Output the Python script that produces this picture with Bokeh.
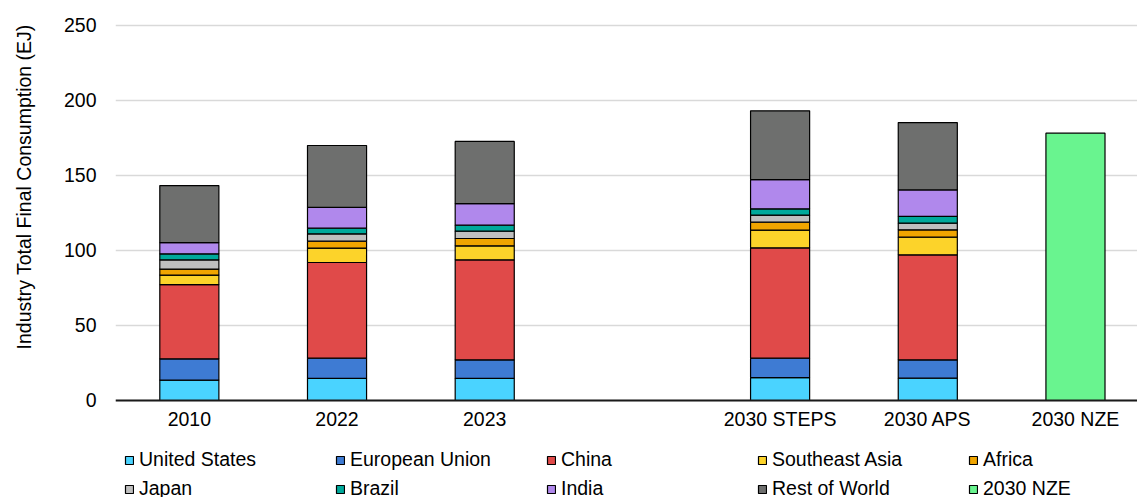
from bokeh.embed import file_html
from bokeh.models import (ColumnDataSource, FixedTicker, Legend, LegendItem,
                          Range1d)
from bokeh.plotting import figure
from bokeh.resources import INLINE

# Slots along the x axis; the empty slot leaves a gap before the 2030 scenarios
slots = ["2010", "2022", "2023", "", "2030 STEPS", "2030 APS", "2030 NZE"]
stacked_cats = ["2010", "2022", "2023", "2030 STEPS", "2030 APS"]

# Industry total final consumption by region (EJ)
united_states = [13.6, 14.7, 14.7, 15.3, 14.9]
european_union = [14.2, 13.5, 12.4, 12.9, 12.2]
china = [49.5, 63.8, 66.7, 73.6, 70.0]
southeast_asia = [6.3, 9.6, 9.3, 11.8, 11.8]
africa = [4.0, 4.6, 4.9, 5.3, 4.9]
japan = [6.2, 4.9, 4.9, 4.7, 4.4]
brazil = [4.0, 3.8, 4.0, 4.2, 4.5]
india = [7.5, 13.8, 14.4, 19.5, 17.7]
rest_of_world = [38.0, 41.3, 41.4, 45.8, 44.9]

# Net Zero Emissions scenario total (EJ)
nze_cat = ["2030 NZE"]
nze_total = [178.2]

series_names = ["United States", "European Union", "China", "Southeast Asia",
                "Africa", "Japan", "Brazil", "India", "Rest of World"]
series_values = [united_states, european_union, china, southeast_asia, africa,
                 japan, brazil, india, rest_of_world]
series_colors = ["#4AD3FF", "#3E7BD3", "#E04A49", "#FCD32A", "#F0A500",
                 "#BFBFBF", "#00A99B", "#B088EC", "#6E6F6E"]
nze_color = "#69F48F"

FONT = "Liberation Sans"
FS = "19.5px"

data = {"x": [slots.index(c) for c in stacked_cats]}
for name, vals in zip(series_names, series_values):
    data[name] = vals
src = ColumnDataSource(data)
nze_src = ColumnDataSource({"x": [slots.index(c) for c in nze_cat], "top": nze_total})

# The frame reaches the bottom of the canvas so the legend sits inside it;
# the category axis is pinned at zero.
p = figure(width=1137, height=497, output_backend="svg", toolbar_location=None,
           x_range=Range1d(-0.5, 6.42), y_range=Range1d(-64.67, 252),
           min_border_left=115, min_border_right=0, min_border_top=22,
           min_border_bottom=0)
p.outline_line_color = None
p.background_fill_color = "white"
p.border_fill_color = "white"

stack = p.vbar_stack(series_names, x="x", width=0.4, source=src,
                     color=series_colors, line_color="black", line_width=1.2)
nze = p.vbar(x="x", top="top", width=0.4, source=nze_src,
             fill_color=nze_color, line_color="black", line_width=1.2)

# Category axis
p.xaxis.fixed_location = 0
p.xaxis.ticker = FixedTicker(ticks=[i for i, s in enumerate(slots) if s])
p.xaxis.major_label_overrides = {i: s for i, s in enumerate(slots) if s}
p.xaxis.major_tick_line_color = None
p.xaxis.minor_tick_line_color = None
p.xaxis.axis_line_color = "#1a1a1a"
p.xaxis.axis_line_width = 2
p.xaxis.major_label_text_font = FONT
p.xaxis.major_label_text_font_size = FS
p.xaxis.major_label_text_color = "black"
p.xaxis.major_label_standoff = 2

# Value axis; non-breaking spaces lift the title over the 0-250 part of the frame
p.yaxis.ticker = FixedTicker(ticks=[0, 50, 100, 150, 200, 250])
p.yaxis.axis_line_color = None
p.yaxis.major_tick_line_color = None
p.yaxis.minor_tick_line_color = None
p.yaxis.major_label_text_font = FONT
p.yaxis.major_label_text_font_size = FS
p.yaxis.major_label_text_color = "black"
p.yaxis.major_label_standoff = 13
p.yaxis.axis_label = "\u00a0" * 27 + "Industry Total Final Consumption (EJ)"
p.yaxis.axis_label_text_font = FONT
p.yaxis.axis_label_text_font_size = FS
p.yaxis.axis_label_text_font_style = "normal"
p.yaxis.axis_label_text_color = "black"
p.yaxis.axis_label_standoff = 26

p.xgrid.grid_line_color = None
p.ygrid.grid_line_color = "#D9D9D9"
p.ygrid.grid_line_width = 1.5

# Legend: two rows of five entries under the axis
items = [LegendItem(label=n, renderers=[r]) for n, r in zip(series_names, stack)]
items.insert(9, LegendItem(label="2030 NZE", renderers=[nze]))
legend = Legend(items=items, orientation="horizontal", ncols=5,
                location=(9, -3), padding=0, margin=0, spacing=6,
                glyph_width=10, glyph_height=10, label_standoff=5,
                label_width=190, label_text_font=FONT, label_text_font_size=FS,
                label_text_color="black", border_line_color=None,
                background_fill_alpha=0)
p.add_layout(legend, "center")

open("out.html", "w").write(file_html(p, INLINE))
